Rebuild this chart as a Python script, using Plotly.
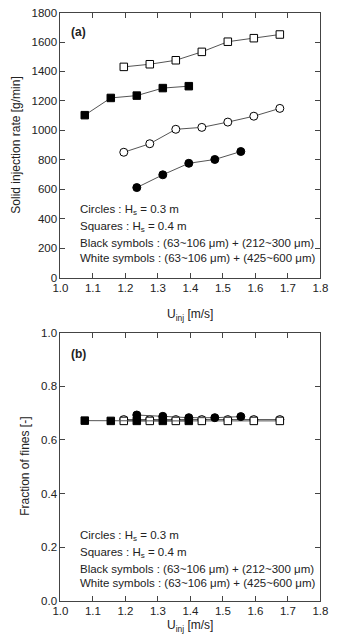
import plotly.graph_objects as go

# ---- data ----
x_open = [1.195, 1.275, 1.355, 1.435, 1.515, 1.595, 1.675]
x_sq_black = [1.075, 1.155, 1.235, 1.315, 1.395]
x_ci_black = [1.235, 1.315, 1.395, 1.475, 1.555]

rate_sq_white = [1431, 1449, 1476, 1533, 1602, 1626, 1651]
rate_sq_black = [1103, 1220, 1236, 1287, 1300]
rate_ci_white = [851, 909, 1007, 1020, 1056, 1096, 1149]
rate_ci_black = [611, 698, 776, 802, 856]

frac_sq_white = [0.671, 0.671, 0.671, 0.671, 0.671, 0.671, 0.671]
frac_sq_black = [0.672, 0.671, 0.671, 0.671, 0.671]
frac_ci_white = [0.676, 0.676, 0.676, 0.676, 0.676, 0.676, 0.676]
frac_ci_black = [0.693, 0.688, 0.683, 0.683, 0.687]

x_ticks = [1.0, 1.1, 1.2, 1.3, 1.4, 1.5, 1.6, 1.7, 1.8]
y1_ticks = [0, 200, 400, 600, 800, 1000, 1200, 1400, 1600, 1800]
y2_ticks = [0.0, 0.2, 0.4, 0.6, 0.8, 1.0]

W, H = 338, 641
FONT = "Liberation Sans, Arial, sans-serif"
AX = "#444444"
LINE = "#555555"

fig = go.Figure()

def add(x, y, symbol, filled, xa, ya):
    fig.add_trace(go.Scatter(
        x=x, y=y, mode="lines+markers", xaxis=xa, yaxis=ya,
        line=dict(color=LINE, width=1),
        marker=dict(symbol=symbol, size=8 if symbol == "circle" else 7.5,
                    color="black" if filled else "white",
                    line=dict(color="black", width=1)),
        showlegend=False, cliponaxis=False))

# panel (a)
add(x_open, rate_sq_white, "square", False, "x", "y")
add(x_sq_black, rate_sq_black, "square", True, "x", "y")
add(x_open, rate_ci_white, "circle", False, "x", "y")
add(x_ci_black, rate_ci_black, "circle", True, "x", "y")
# panel (b)
add(x_open, frac_ci_white, "circle", False, "x2", "y2")
add(x_open, frac_sq_white, "square", False, "x2", "y2")
add(x_sq_black, frac_sq_black, "square", True, "x2", "y2")
add(x_ci_black, frac_ci_black, "circle", True, "x2", "y2")

def px_x(p):
    return p / W

def px_y(p):
    return 1 - p / H

xdom = [px_x(55), px_x(328)]
top_dom = [px_y(276.7), px_y(6.7)]
bot_dom = [px_y(606), px_y(333)]

axis_common = dict(
    showline=True, linecolor=AX, linewidth=1, mirror="allticks",
    ticks="inside", ticklen=5, tickcolor=AX, tickwidth=1,
    showgrid=False, zeroline=False,
    tickfont=dict(family=FONT, size=11.5, color="#222"),
)

fig.update_layout(
    width=W, height=H, margin=dict(l=0, r=0, t=0, b=0),
    paper_bgcolor="white", plot_bgcolor="white",
    xaxis=dict(domain=xdom, range=[1.0, 1.8], tickvals=x_ticks,
               ticktext=[f"{v:.1f}" for v in x_ticks], anchor="y", **axis_common),
    yaxis=dict(domain=top_dom, range=[0, 1800], tickvals=y1_ticks,
               ticktext=[str(v) for v in y1_ticks], anchor="x", **axis_common),
    xaxis2=dict(domain=xdom, range=[1.0, 1.8], tickvals=x_ticks,
                ticktext=[f"{v:.1f}" for v in x_ticks], anchor="y2", **axis_common),
    yaxis2=dict(domain=bot_dom, range=[0, 1.0], tickvals=y2_ticks,
                ticktext=[f"{v:.1f}" for v in y2_ticks], anchor="x2", **axis_common),
)

ann = []
def text(x, y, s, size=11, xanchor="left", yanchor="middle", angle=0, bold=False):
    if bold:
        s = f"<b>{s}</b>"
    ann.append(dict(x=px_x(x), y=px_y(y), xref="paper", yref="paper", text=s,
                    showarrow=False, xanchor=xanchor, yanchor=yanchor, textangle=angle,
                    font=dict(family=FONT, size=size, color="#222")))

# panel labels
text(64, 26, "(a)", size=12, bold=True)
text(64, 355, "(b)", size=12, bold=True)

# axis titles
text(191.5, 315, "U<sub>inj</sub> [m/s]", size=12, xanchor="center")
text(191.5, 632, "U<sub>inj</sub> [m/s]", size=12, xanchor="center")
text(8, 141.7, "Solid injection rate [g/min]", size=12, xanchor="center", angle=-90)
text(18, 469.5, "Fraction of fines [-]", size=12, xanchor="center", angle=-90)

notes = ["Circles : H<sub>s</sub> = 0.3 m",
         "Squares : H<sub>s</sub> = 0.4 m",
         "Black symbols : (63~106 μm) + (212~300 μm)",
         "White symbols : (63~106 μm) + (425~600 μm)"]
for yy, s in zip([208, 225, 242, 257], notes):
    text(74, yy, s, size=11.5)
for yy, s in zip([540, 557, 574, 588], notes):
    text(74, yy, s, size=11.5)

fig.update_layout(annotations=ann)
fig.write_html("out.html")
